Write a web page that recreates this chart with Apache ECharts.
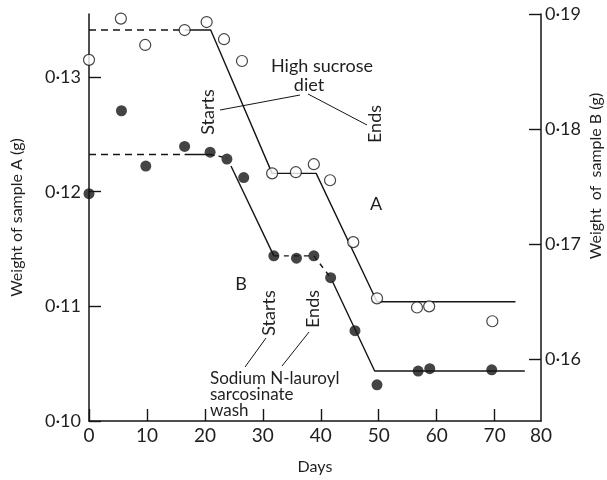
<!DOCTYPE html>
<html>
<head>
<meta charset="utf-8">
<script src="https://cdn.jsdelivr.net/npm/echarts@6/dist/echarts.min.js"></script>
<style>
  html, body { margin: 0; padding: 0; background: #fff; }
  #chart { width: 607px; height: 480px; }
</style>
</head>
<body>
<div id="chart"></div>
<script>
// Sample A (open circles, left axis): day, weight (g)
const sampleADays    = [0, 5.5, 9.7, 16.5, 20.3, 23.3, 26.4, 31.6, 35.7, 38.8, 41.6, 45.6, 49.7, 56.6, 58.7, 69.6];
const sampleAWeights = [0.1315, 0.1351, 0.1328, 0.1341, 0.1348, 0.1333, 0.1314, 0.1216, 0.1217, 0.1224, 0.1210, 0.1156, 0.1107, 0.1099, 0.1100, 0.1087];

// Sample B (filled circles, right axis): day, weight (g)
const sampleBDays    = [0, 5.6, 9.8, 16.5, 20.9, 23.8, 26.7, 31.9, 35.8, 38.8, 41.7, 45.9, 49.7, 56.8, 58.8, 69.5];
const sampleBWeights = [0.1744, 0.1816, 0.1768, 0.1785, 0.1780, 0.1774, 0.1758, 0.1690, 0.1688, 0.1690, 0.1671, 0.1625, 0.1578, 0.1590, 0.1592, 0.1591];

// Fitted trend lines, as [day, weight] vertices
const trendADashed = [[0, 0.1341], [16.5, 0.1341]];
const trendASolid  = [[16.5, 0.1341], [21.0, 0.1341], [31.6, 0.1216], [39.2, 0.1216], [49.7, 0.1104], [73.6, 0.1104]];
const trendBDashed1 = [[0, 0.1778], [16.5, 0.1778]];
const trendBSolid1  = [[16.5, 0.1778], [21.0, 0.1778]];
const trendBDashed2 = [[21.0, 0.1778], [23.8, 0.1775]];
const trendBSolid2  = [[24.5, 0.1768], [31.9, 0.1690]];
const trendBDashed3 = [[31.9, 0.1690], [38.8, 0.1690], [41.7, 0.1671]];
const trendBSolid3  = [[42.0, 0.1668], [49.3, 0.1590], [75.2, 0.1590]];

// Axis ticks and labels
const dayTicks = [0, 10, 20, 30, 40, 50, 60, 70];
const dayAxisEnd = 78;              // drawn axis stops just short of day 80
const dayTickLabels = ['0', '10', '20', '30', '40', '50', '60', '70', '80'];
const weightATicks = [0.10, 0.11, 0.12, 0.13];
const weightATickLabels = ['0·10', '0·11', '0·12', '0·13'];
const weightBTicks = [0.16, 0.17, 0.18, 0.19];
const weightBTickLabels = ['0·16', '0·17', '0·18', '0·19'];

const FONT = 'Lato';
const INK = '#151515';
const TEXT = '#1f1f1f';

const zip = (xs, ys) => xs.map((x, i) => [x, ys[i]]);
const labelFor = (ticks, labels) => (v) => {
  const i = ticks.findIndex(t => Math.abs(t - v) < 1e-9);
  return i >= 0 ? labels[i] : '';
};

function trend(data, yAxisIndex, type) {
  return {
    type: 'line', data, yAxisIndex, showSymbol: false, silent: true, z: 2,
    lineStyle: { color: INK, width: 1.4, type: type },
    animation: false
  };
}

const chart = echarts.init(document.getElementById('chart'), null, { renderer: 'canvas' });

const axisCommon = {
  axisLine: { show: true, lineStyle: { color: INK, width: 1.5 } },
  axisTick: { show: true, inside: true, length: 12, lineStyle: { color: INK, width: 1.4 } },
  splitLine: { show: false }
};

const textAt = (x, y, text, size, rotated) => ({
  type: 'text', x, y, rotation: rotated ? Math.PI / 2 : 0,
  style: { text, fill: TEXT, font: `${size}px ${FONT}`, align: 'center', verticalAlign: 'middle' }
});
const leader = (x1, y1, x2, y2) => ({
  type: 'line', shape: { x1, y1, x2, y2 }, style: { stroke: INK, lineWidth: 1 }
});

const option = {
  backgroundColor: '#fff',
  animation: false,
  grid: { left: 89, right: 66, top: 14, bottom: 50 },
  xAxis: {
    type: 'value', min: 0, max: dayAxisEnd,
    ...axisCommon,
    axisTick: { ...axisCommon.axisTick, customValues: dayTicks },
    axisLabel: {
      customValues: [...dayTicks, dayAxisEnd],
      formatter: (v) => v === dayAxisEnd ? dayTickLabels[dayTickLabels.length - 1] : labelFor(dayTicks, dayTickLabels)(v),
      color: TEXT, fontFamily: FONT, fontSize: 19, margin: 5
    },
    name: 'Days', nameLocation: 'middle', nameGap: 38,
    nameTextStyle: { color: TEXT, fontFamily: FONT, fontSize: 16 }
  },
  yAxis: [
    {
      type: 'value', min: 0.10, max: 0.1355, position: 'left',
      ...axisCommon,
      axisTick: { ...axisCommon.axisTick, customValues: weightATicks },
      axisLabel: {
        customValues: weightATicks, formatter: labelFor(weightATicks, weightATickLabels),
        color: TEXT, fontFamily: FONT, fontSize: 18, margin: 8
      },
      name: 'Weight of sample A (g)', nameLocation: 'middle', nameGap: 64, nameRotate: 90,
      nameTextStyle: { color: TEXT, fontFamily: FONT, fontSize: 16 }
    },
    {
      type: 'value', min: 0.15466, max: 0.19, position: 'right',
      ...axisCommon,
      axisTick: { ...axisCommon.axisTick, customValues: weightBTicks },
      axisLabel: {
        customValues: weightBTicks, formatter: labelFor(weightBTicks, weightBTickLabels),
        color: TEXT, fontFamily: FONT, fontSize: 18, margin: 4
      }
    }
  ],
  series: [
    trend(trendADashed, 0, [7, 5]),
    trend(trendASolid, 0, 'solid'),
    trend(trendBDashed1, 1, [7, 5]),
    trend(trendBSolid1, 1, 'solid'),
    trend(trendBDashed2, 1, [4, 4]),
    trend(trendBSolid2, 1, 'solid'),
    trend(trendBDashed3, 1, [5, 5]),
    trend(trendBSolid3, 1, 'solid'),
    {
      name: 'A', type: 'scatter', yAxisIndex: 0, z: 5, symbol: 'circle', symbolSize: 11,
      data: zip(sampleADays, sampleAWeights),
      itemStyle: { color: '#fff', borderColor: INK, borderWidth: 1.2 }
    },
    {
      name: 'B', type: 'scatter', yAxisIndex: 1, z: 5, symbol: 'circle', symbolSize: 11,
      data: zip(sampleBDays, sampleBWeights),
      itemStyle: { color: INK }
    }
  ],
  graphic: [
    // right axis title
    textAt(596, 176, 'Weight  of  sample B (g)', 16, true),
    // high sucrose diet annotation
    textAt(322, 66, 'High sucrose', 18),
    textAt(309, 85, 'diet', 18),
    leader(220, 110, 300, 95),
    leader(308, 94, 367, 125),
    textAt(208, 112, 'Starts', 18, true),
    textAt(375, 124, 'Ends', 18, true),
    // series letters
    textAt(376, 204, 'A', 18),
    textAt(241, 284, 'B', 18),
    // wash annotation
    textAt(269, 313, 'Starts', 18, true),
    textAt(313, 309, 'Ends', 18, true),
    leader(266, 338, 245, 367),
    leader(309, 332, 282, 366),
    { type: 'text', x: 210, y: 371,
      style: { text: 'Sodium N-lauroyl\nsarcosinate\nwash', fill: TEXT, font: `17px ${FONT}`, lineHeight: 16, align: 'left', verticalAlign: 'top' } }
  ]
};

chart.setOption(option);
</script>
</body>
</html>
